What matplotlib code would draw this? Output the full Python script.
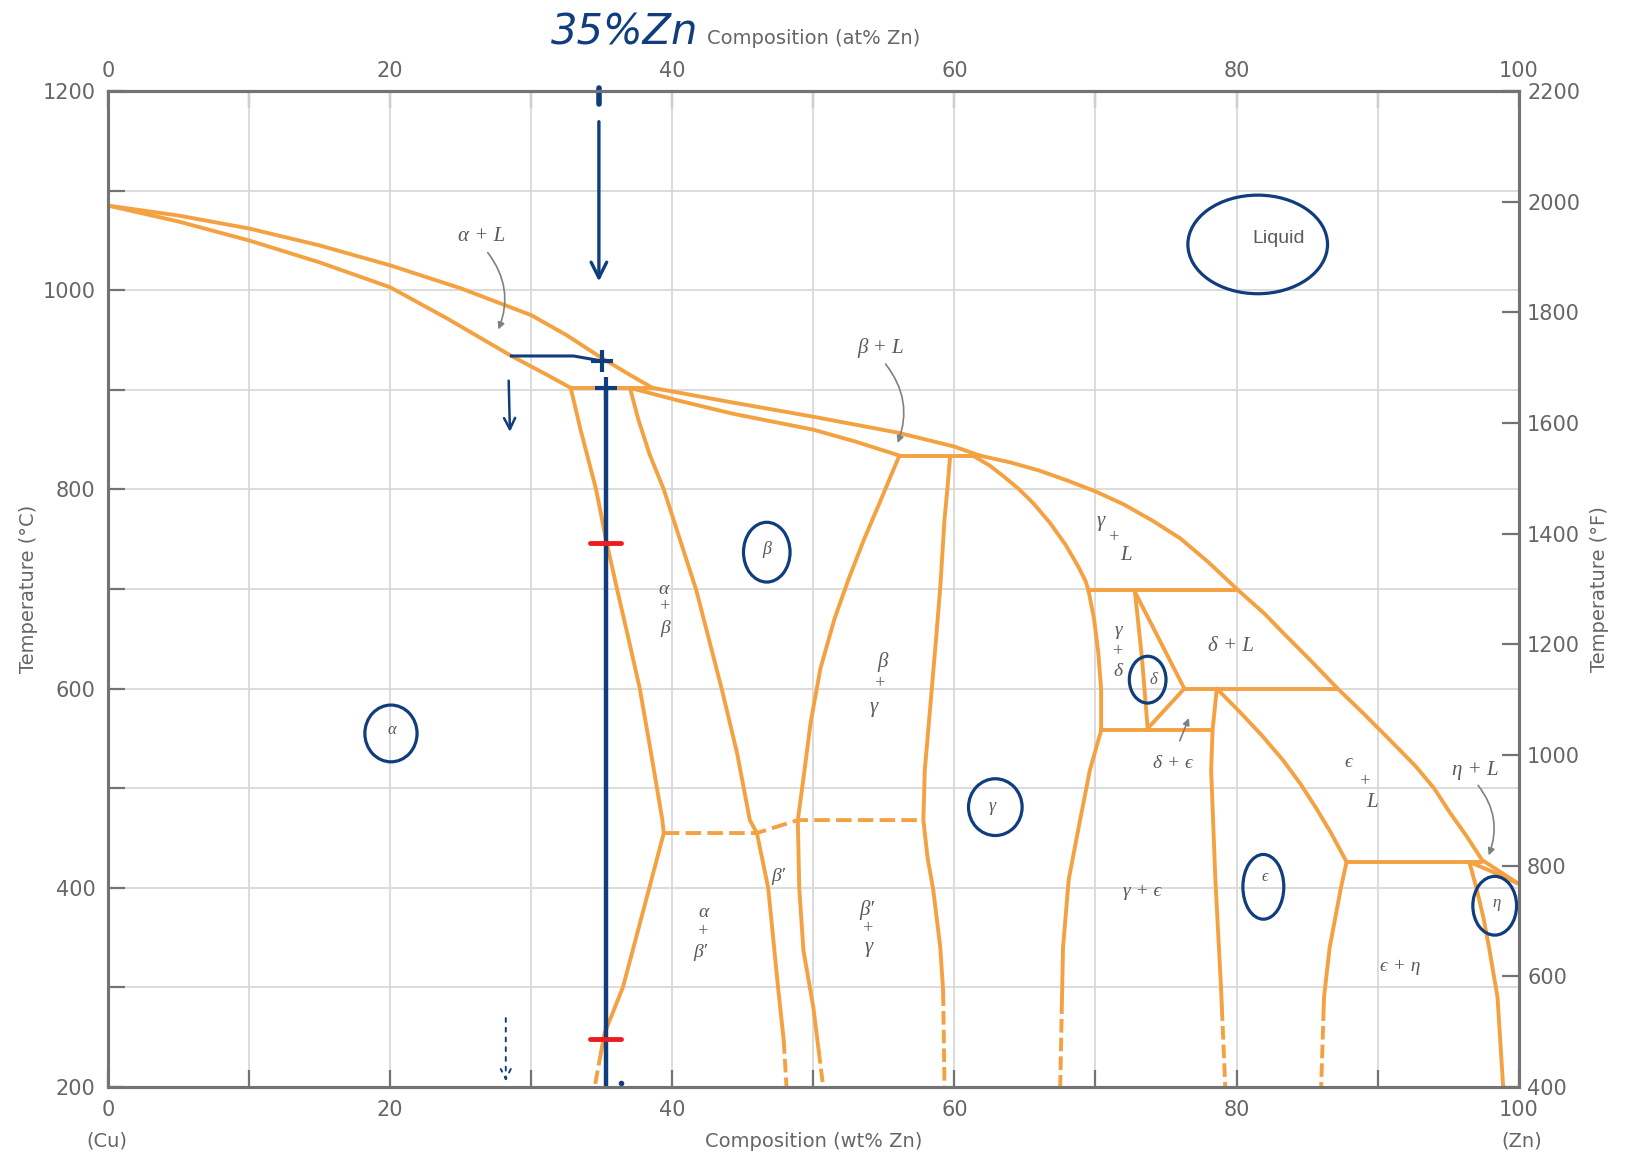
import numpy as np
import matplotlib
matplotlib.use("Agg")
import matplotlib.pyplot as plt
from matplotlib.patches import Ellipse

ORANGE = "#f4a142"
GRID = "#d9d9d9"
AXIS = "#737373"
TEXT = "#666666"
LABEL = "#5a5a5a"
NAVY = "#0f3d7d"
RED = "#ee1c1c"

# ---------- phase boundaries (wt% Zn, deg C) ----------
alpha_liquidus = [(0, 1085), (5, 1075), (10, 1062), (15, 1045), (20, 1025),
                  (25, 1002), (30, 975), (32.5, 955), (35, 932), (37, 915), (38.6, 902)]
alpha_solidus = [(0, 1085), (5, 1069), (10, 1050), (15, 1028), (20, 1003),
                 (24, 972), (28.6, 934), (31, 916), (32.8, 902)]
peritectic_903 = [(32.8, 902), (38.6, 902)]
beta_solidus = [(37.0, 902), (40.5, 889), (44.3, 876), (50, 860), (53, 848), (56.1, 834)]
beta_liquidus = [(38.6, 902), (44, 888), (50, 873), (56, 857), (60, 843), (61.8, 834)]
peritectic_835 = [(56.1, 834), (61.8, 834)]
liquidus_high = [(61.8, 834), (64, 827), (66, 819), (68, 809), (70, 798), (72, 785),
                 (74, 769), (76, 751), (78, 727), (80.1, 699), (82, 675),
                 (83.3, 656), (85.2, 629), (87.1, 601), (89, 575), (90.9, 548),
                 (92.7, 522), (94, 500), (95.1, 476), (96.3, 452), (97.4, 428),
                 (100, 404)]
gamma_liquid = [(61.3, 834), (62.5, 824), (63.5, 813), (64.6, 800), (65.6, 786),
                (66.8, 766), (67.9, 744), (68.8, 722), (69.3, 708), (69.5, 699)]
peritectic_700 = [(69.5, 699), (80.1, 699)]
gamma_delta = [(69.5, 699), (69.9, 670), (70.2, 636), (70.4, 600), (70.4, 558)]
delta_left = [(72.8, 697), (73.3, 630), (73.7, 560)]
delta_right = [(72.8, 697), (76.3, 600), (73.7, 560)]
peritectic_600 = [(76.3, 600), (87.1, 600)]
eutectoid_560 = [(70.4, 558), (78.2, 558)]
eps_left = [(78.6, 600), (78.3, 558), (78.2, 518), (78.5, 408), (78.9, 300), (79.2, 200)]
eps_liquid = [(78.6, 600), (80.2, 577), (81.8, 553), (83.3, 528), (84.5, 505),
              (85.6, 481), (86.7, 455), (87.8, 426)]
peritectic_424 = [(87.8, 426), (97.4, 426)]
eps_eta = [(87.8, 426), (87.4, 400), (87.0, 370), (86.6, 340), (86.2, 290), (86.0, 200)]
eta_solvus = [(96.5, 426), (97.0, 400), (97.5, 370), (97.9, 340), (98.5, 290), (98.9, 200)]
eta_solidus = [(96.5, 426), (98, 417), (100, 404)]
gamma_eps = [(70.4, 558), (69.6, 518), (68.8, 460), (68.1, 408), (67.7, 340), (67.5, 200)]
gamma_left = [(59.7, 834), (59.5, 800), (59.3, 770), (59.0, 702), (58.7, 650),
              (58.4, 600), (57.9, 518), (57.8, 468), (58.1, 430), (58.5, 398),
              (59.0, 340), (59.2, 297), (59.3, 200)]
beta_gamma = [(56.1, 834), (54.8, 790), (53.6, 750), (52.5, 710), (51.5, 670),
              (50.5, 620), (49.8, 565), (49.3, 510), (48.9, 468), (49.0, 400),
              (49.3, 337), (50.0, 280), (50.7, 200)]
alpha_beta = [(32.8, 902), (33.5, 860), (34.6, 800), (35.3, 750), (36.1, 699),
              (36.9, 650), (37.7, 600), (38.5, 535), (39.3, 468), (39.4, 455)]
beta_right = [(37.0, 902), (37.6, 870), (38.4, 835), (39.4, 800), (41.7, 699),
              (43.5, 600), (44.6, 535), (45.5, 468), (46.0, 455), (46.8, 400),
              (47.5, 300), (47.9, 247), (48.1, 200)]
alpha_betap = [(39.4, 455), (38.0, 380), (36.5, 300), (35.2, 254), (34.5, 200)]
ordering = [(39.4, 455), (46.0, 455), (48.9, 468), (57.8, 468)]

solid_lines = [alpha_liquidus, alpha_solidus, peritectic_903, beta_solidus,
               beta_liquidus, peritectic_835, liquidus_high, gamma_liquid,
               peritectic_700, gamma_delta, delta_left, delta_right,
               peritectic_600, eutectoid_560, eps_liquid, peritectic_424,
               eta_solvus, eta_solidus, alpha_beta]
# boundaries whose low-temperature ends are dashed: (points, dashed below T)
dashed_ends = [(eps_left, 280), (eps_eta, 280), (gamma_eps, 287),
               (gamma_left, 295), (beta_gamma, 237), (beta_right, 247),
               (alpha_betap, 235)]

# ---------- region labels (text, wt% Zn, deg C, size) ----------
labels = [
    ("α + L", 26.5, 1054, 15), ("β + L", 54.8, 942, 15),
    ("γ", 70.4, 768, 15), ("+", 71.3, 752, 13), ("L", 72.2, 734, 15),
    ("α", 39.4, 700, 14), ("+", 39.5, 682, 13), ("β", 39.5, 660, 14),
    ("β", 46.7, 740, 13),
    ("β", 54.9, 627, 15), ("+", 54.7, 605, 13), ("γ", 54.3, 581, 15),
    ("γ", 71.6, 658, 14), ("+", 71.6, 637, 13), ("δ", 71.6, 617, 14),
    ("δ", 74.1, 609, 12), ("δ + L", 79.6, 642, 15), ("δ + ϵ", 75.5, 525, 14),
    ("α", 20.1, 558, 12), ("γ", 62.7, 482, 13),
    ("ϵ", 87.9, 526, 14), ("+", 89.1, 507, 13), ("L", 89.6, 486, 15),
    ("η + L", 96.9, 518, 15), ("β′", 47.5, 411, 14),
    ("α", 42.2, 375, 14), ("+", 42.2, 356, 13), ("β′", 42.0, 335, 14),
    ("β′", 53.8, 378, 15), ("+", 53.9, 359, 13), ("γ", 53.9, 340, 15),
    ("γ + ϵ", 73.3, 396, 14), ("ϵ", 82.0, 411, 12), ("η", 98.4, 385, 12),
    ("ϵ + η", 91.6, 321, 14),
]
# curved pointer arrows: (from wt, from T, to wt, to T, curvature)
pointers = [(26.8, 1040, 27.6, 958, -0.3), (55.0, 928, 55.9, 844, -0.3),
            (97.0, 505, 97.8, 430, -0.3), (75.9, 545, 76.7, 573, 0.0)]

# ---------- hand annotations ----------
alloy_wt = 35.3
circles = [(20.06, 555, 3.7, 57), (46.7, 737, 3.3, 60), (62.9, 481, 3.8, 57),
           (73.7, 609, 2.6, 47), (81.9, 401, 2.9, 65), (98.3, 382, 3.1, 59),
           (81.5, 1046, 9.9, 99)]
tie_line = [(28.6, 934), (33.0, 934), (35.0, 929)]
red_marks = [746, 248]

x_ticks = [0, 20, 40, 60, 80, 100]
c_ticks = [200, 400, 600, 800, 1000, 1200]
f_ticks = [400, 600, 800, 1000, 1200, 1400, 1600, 1800, 2000, 2200]


def draw_boundary(ax, pts, dash_below=None):
    wt = np.array([p[0] for p in pts], float)
    t = np.array([p[1] for p in pts], float)
    kw = dict(color=ORANGE, lw=2.8, solid_capstyle="round",
              solid_joinstyle="round", zorder=3)
    if dash_below is None:
        ax.plot(wt, t, **kw)
        return
    xs = np.interp(dash_below, t[::-1], wt[::-1])
    up = t >= dash_below
    ax.plot(np.r_[wt[up], xs], np.r_[t[up], dash_below], **kw)
    ax.plot(np.r_[xs, wt[~up]], np.r_[dash_below, t[~up]],
            color=ORANGE, lw=2.8, ls=(0, (3.5, 1.3)), zorder=3)


fig = plt.figure(figsize=(16.26, 11.57), dpi=100)
ax = fig.add_axes([0.0664, 0.0605, 0.8676, 0.8608])
ax.set_xlim(0, 100)
ax.set_ylim(200, 1200)

ax.set_xticks(x_ticks)
ax.set_xticks(np.arange(0, 101, 10), minor=True)
ax.set_yticks(c_ticks)
ax.set_yticks(np.arange(200, 1201, 100), minor=True)
ax.grid(which="both", color=GRID, lw=1.3, zorder=0)
ax.tick_params(which="both", direction="in", length=12, width=1.6, color=AXIS,
               labelsize=15, labelcolor=TEXT, pad=9)
for s in ax.spines.values():
    s.set_color(AXIS)
    s.set_linewidth(2.2)

top = ax.secondary_xaxis("top")
top.set_xticks(x_ticks)
top.set_xticks(np.arange(0, 101, 10), minor=True)
top.tick_params(which="both", direction="in", length=12, width=1.6, color=AXIS,
                labelsize=15, labelcolor=TEXT, pad=7)
top.spines["top"].set_color(AXIS)
top.spines["top"].set_linewidth(2.2)

right = ax.twinx()
right.set_ylim(400, 2200)
right.set_yticks(f_ticks)
right.tick_params(direction="in", length=12, width=1.6, color=AXIS,
                  labelsize=15, labelcolor=TEXT, pad=6)
for s in right.spines.values():
    s.set_color(AXIS)
    s.set_linewidth(2.2)

# phase boundaries
for pts in solid_lines:
    draw_boundary(ax, pts)
for pts, t_dash in dashed_ends:
    draw_boundary(ax, pts, t_dash)
ax.plot([p[0] for p in ordering], [p[1] for p in ordering], color=ORANGE,
        lw=2.8, ls=(0, (4, 1.6)), zorder=3)

greek_font = ["Liberation Serif", "DejaVu Serif"]
for txt, x, y, size in labels:
    ax.text(x, y, txt, ha="center", va="center", fontsize=size, color=LABEL,
            family=greek_font, style="italic", zorder=4)
ax.text(83.0, 1052, "Liquid", ha="center", va="center", fontsize=14,
        color=LABEL, family="Liberation Sans", zorder=4)
for x0, y0, x1, y1, rad in pointers:
    ax.annotate("", xy=(x1, y1), xytext=(x0, y0), zorder=4,
                arrowprops=dict(arrowstyle="-|>", color="#808080", lw=1.2,
                                mutation_scale=10,
                                connectionstyle=f"arc3,rad={rad}"))

# hand-drawn annotations
for cx, cy, w, h in circles:
    ax.add_patch(Ellipse((cx, cy), w, h, fill=False, ec=NAVY, lw=2.3, zorder=6))
ax.plot([34.8, 34.8], [1203, 1187], color=NAVY, lw=4, clip_on=False,
        solid_capstyle="round", zorder=6)
ax.annotate("", xy=(34.8, 1006), xytext=(34.8, 1172), zorder=6,
            arrowprops=dict(arrowstyle="->", color=NAVY, lw=2.4,
                            mutation_scale=28))
ax.plot([p[0] for p in tie_line], [p[1] for p in tie_line], color=NAVY, lw=2.2,
        zorder=6)
ax.plot([35.0, 35.3], [929, 902], ls="none", marker="+", ms=16, mew=3,
        color=NAVY, zorder=6)
ax.plot([alloy_wt, alloy_wt], [898, 202], color=NAVY, lw=3.2, zorder=6)
for t in red_marks:
    ax.plot([34.2, 36.4], [t, t], color=RED, lw=3.5, solid_capstyle="round",
            zorder=7)
ax.plot([36.4], [204], marker="o", ms=3, color=NAVY, zorder=6)
ax.annotate("", xy=(28.5, 855), xytext=(28.4, 912), zorder=6,
            arrowprops=dict(arrowstyle="->", color=NAVY, lw=1.8,
                            mutation_scale=20))
ax.annotate("", xy=(28.2, 203), xytext=(28.2, 272), zorder=6,
            arrowprops=dict(arrowstyle="->", color=NAVY, lw=1.4, ls=(0, (2, 3)),
                            mutation_scale=18))

# axis titles
fig.text(0.5006, 0.9663, "Composition (at% Zn)", ha="center", va="center",
         fontsize=14, color=TEXT)
fig.text(0.5006, 0.0138, "Composition (wt% Zn)", ha="center", va="center",
         fontsize=14, color=TEXT)
fig.text(0.0658, 0.0138, "(Cu)", ha="center", va="center", fontsize=14, color=TEXT)
fig.text(0.9360, 0.0138, "(Zn)", ha="center", va="center", fontsize=14, color=TEXT)
fig.text(0.0178, 0.491, "Temperature (°C)", ha="center", va="center",
         rotation=90, fontsize=14, color=TEXT)
fig.text(0.984, 0.491, "Temperature (°F)", ha="center", va="center",
         rotation=90, fontsize=14, color=TEXT)
fig.text(0.3844, 0.972, "35%Zn", ha="center", va="center", fontsize=30,
         color=NAVY, family=["Liberation Sans Narrow", "DejaVu Sans"],
         style="italic")

fig.savefig("out.png", dpi=100, facecolor="white")
